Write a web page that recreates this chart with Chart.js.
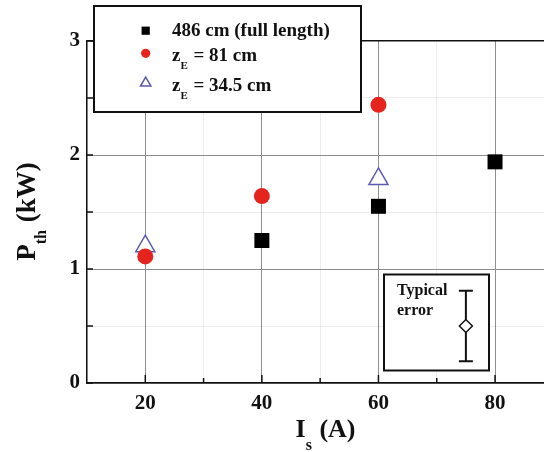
<!DOCTYPE html>
<html>
<head>
<meta charset="utf-8">
<script src="https://cdn.jsdelivr.net/npm/chart.js@4/dist/chart.umd.min.js"></script>
<style>
  html, body { margin: 0; padding: 0; background: #fff; overflow: hidden; }
  #chart { display: block; }
</style>
</head>
<body>
<canvas id="chart" width="544" height="452"></canvas>
<script>
// Threshold power P_th versus coil current I_s for three electrode positions
const currentsFull = [40, 60, 80];
const powerFull = [1.25, 1.55, 1.94];
const currents81 = [20, 40, 60];
const power81 = [1.11, 1.64, 2.44];
const currents345 = [20, 60];
const power345 = [1.20, 1.79];

// Typical error marker shown in the inset
const errorX = [75];
const errorY = [0.5];
const errorHalf = [0.31];

const xTickLabels = [20, 40, 60, 80];
const yTickLabels = [0, 1, 2, 3];
const seriesLabels = ['486 cm (full length)', 'z_E = 81 cm', 'z_E = 34.5 cm'];

const SERIF = "'Liberation Serif', 'Times New Roman', serif";
const INK = '#111';

function pts(xs, ys) { return xs.map((x, i) => ({ x: x, y: ys[i] })); }

// draw a string where "_X" marks a subscript run
function richText(ctx, str, x, y, size, align, subDrop) {
  const parts = [];
  const re = /_(\w+?)(?=\s|$)/g;
  let last = 0, m;
  while ((m = re.exec(str)) !== null) {
    if (m.index > last) parts.push({ t: str.slice(last, m.index), sub: false });
    parts.push({ t: m[1], sub: true });
    last = re.lastIndex;
  }
  if (last < str.length) parts.push({ t: str.slice(last), sub: false });
  const main = 'bold ' + size + 'px ' + SERIF;
  const small = 'bold ' + Math.round(size * 0.6) + 'px ' + SERIF;
  let total = 0;
  parts.forEach(p => { ctx.font = p.sub ? small : main; p.w = ctx.measureText(p.t).width; total += p.w; });
  let cx = align === 'center' ? x - total / 2 : x;
  ctx.textAlign = 'left';
  ctx.textBaseline = 'alphabetic';
  parts.forEach(p => {
    ctx.font = p.sub ? small : main;
    ctx.fillText(p.t, cx, p.sub ? y + size * (subDrop || 0.42) : y);
    cx += p.w + (p.sub ? 1 : 0);
  });
}

const decorations = {
  id: 'decorations',
  beforeDatasetsDraw(chart) {
    const ctx = chart.ctx;
    const xs = chart.scales.x, ys = chart.scales.y;
    const area = chart.chartArea;
    ctx.save();
    ctx.strokeStyle = INK;
    ctx.lineWidth = 1.5;
    // inward tick marks
    ys.ticks.forEach(t => {
      const py = ys.getPixelForValue(t.value);
      ctx.beginPath(); ctx.moveTo(area.left, py); ctx.lineTo(area.left + 6, py); ctx.stroke();
    });
    xs.ticks.forEach(t => {
      if (t.value <= xs.min) return;
      const px = xs.getPixelForValue(t.value);
      const len = t.value % 20 === 0 ? 8 : 5;
      ctx.beginPath(); ctx.moveTo(px, area.bottom); ctx.lineTo(px, area.bottom - len); ctx.stroke();
    });

    // inset box for the typical error
    ctx.fillStyle = '#fff';
    ctx.fillRect(384, 274.5, 105, 96);
    ctx.lineWidth = 2;
    ctx.strokeRect(384, 274.5, 105, 96);
    ctx.fillStyle = INK;
    ctx.font = 'bold 16px ' + SERIF;
    ctx.textAlign = 'left';
    ctx.textBaseline = 'alphabetic';
    ctx.fillText('Typical', 397, 294.5);
    ctx.fillText('error', 397, 314.5);

    // error bar with caps
    errorX.forEach((ex, i) => {
      const px = xs.getPixelForValue(ex);
      const top = ys.getPixelForValue(errorY[i] + errorHalf[i]);
      const bot = ys.getPixelForValue(errorY[i] - errorHalf[i]);
      ctx.lineWidth = 2;
      ctx.beginPath();
      ctx.moveTo(px, top); ctx.lineTo(px, bot);
      ctx.moveTo(px - 7, top); ctx.lineTo(px + 7, top);
      ctx.moveTo(px - 7, bot); ctx.lineTo(px + 7, bot);
      ctx.stroke();
    });
    ctx.restore();
  },
  afterDatasetsDraw(chart) {
    const ctx = chart.ctx;
    ctx.save();
    // legend box
    ctx.fillStyle = '#fff';
    ctx.fillRect(94, 6, 267, 106);
    ctx.strokeStyle = INK;
    ctx.lineWidth = 2;
    ctx.strokeRect(94, 6, 267, 106);

    const markerY = [30.7, 53.3, 83];
    const textY = [36, 60.7, 91];
    const markerR = [5.8, 4.6, 6];
    chart.data.datasets.slice(0, 3).forEach((ds, i) => {
      ctx.fillStyle = ds.backgroundColor;
      ctx.strokeStyle = ds.borderColor;
      ctx.lineWidth = ds.borderWidth;
      Chart.helpers.drawPoint(ctx, {
        pointStyle: ds.pointStyle, radius: markerR[i], rotation: 0, borderWidth: ds.borderWidth
      }, 145.7, markerY[i]);
      ctx.fillStyle = INK;
      richText(ctx, seriesLabels[i], 172, textY[i], 19, 'left', 0.42);
    });

    // axis titles
    ctx.fillStyle = INK;
    richText(ctx, 'I_s (A)', 325, 437, 26, 'center', 0.5);
    ctx.translate(35, 212);
    ctx.rotate(-Math.PI / 2);
    richText(ctx, 'P_th (kW)', 0, 0, 27, 'center', 0.42);
    ctx.restore();
  }
};

new Chart(document.getElementById('chart'), {
  type: 'scatter',
  data: {
    datasets: [
      {
        label: seriesLabels[0], data: pts(currentsFull, powerFull),
        pointStyle: 'rect', pointRadius: 10.6, pointHoverRadius: 10.6,
        backgroundColor: '#000', borderColor: '#000', borderWidth: 0
      },
      {
        label: seriesLabels[1], data: pts(currents81, power81),
        pointStyle: 'circle', pointRadius: 8, pointHoverRadius: 8,
        backgroundColor: '#e5251d', borderColor: '#e5251d', borderWidth: 0
      },
      {
        label: seriesLabels[2], data: pts(currents345, power345),
        pointStyle: 'triangle', pointRadius: 11, pointHoverRadius: 11,
        backgroundColor: '#fff', borderColor: '#5a5ab0', borderWidth: 1.5
      },
      {
        label: 'error', data: pts(errorX, errorY),
        pointStyle: 'rectRot', pointRadius: 6.5, pointHoverRadius: 6.5,
        backgroundColor: '#fff', borderColor: INK, borderWidth: 1.5
      }
    ]
  },
  options: {
    responsive: false,
    animation: false,
    events: [],
    layout: { autoPadding: false, padding: { top: 41, left: 0, right: 0, bottom: 0 } },
    plugins: { legend: { display: false }, tooltip: { enabled: false } },
    scales: {
      x: {
        type: 'linear', min: 10, max: 88.4,
        afterFit(s) { s.height = 69; s.paddingLeft = 0; s.paddingRight = 0; },
        border: { display: true, color: INK, width: 1.5 },
        grid: {
          drawTicks: false,
          color: c => (c.tick && c.tick.value % 20 === 0) ? '#8e8e8e' : 'rgba(0,0,0,0.07)',
          lineWidth: 1
        },
        ticks: {
          stepSize: 10, includeBounds: false, autoSkip: false, maxRotation: 0,
          padding: 8, color: INK,
          font: { family: SERIF, size: 21, weight: 'bold' },
          callback: v => xTickLabels.includes(v) ? String(v) : ''
        }
      },
      y: {
        type: 'linear', min: 0, max: 3,
        afterFit(s) { s.width = 87; s.paddingTop = 0; s.paddingBottom = 0; },
        border: { display: true, color: INK, width: 1.5 },
        grid: {
          drawTicks: false,
          color: c => {
            const v = c.tick ? c.tick.value : 0;
            if (v === 3) return INK;
            return Number.isInteger(v) ? '#8e8e8e' : 'rgba(0,0,0,0.07)';
          },
          lineWidth: c => (c.tick && c.tick.value === 3) ? 1.5 : 1
        },
        ticks: {
          stepSize: 0.5, includeBounds: false, autoSkip: false,
          padding: 7, color: INK,
          font: { family: SERIF, size: 21, weight: 'bold' },
          callback: v => yTickLabels.includes(v) ? String(v) : ''
        }
      }
    }
  },
  plugins: [decorations]
});
</script>
</body>
</html>
